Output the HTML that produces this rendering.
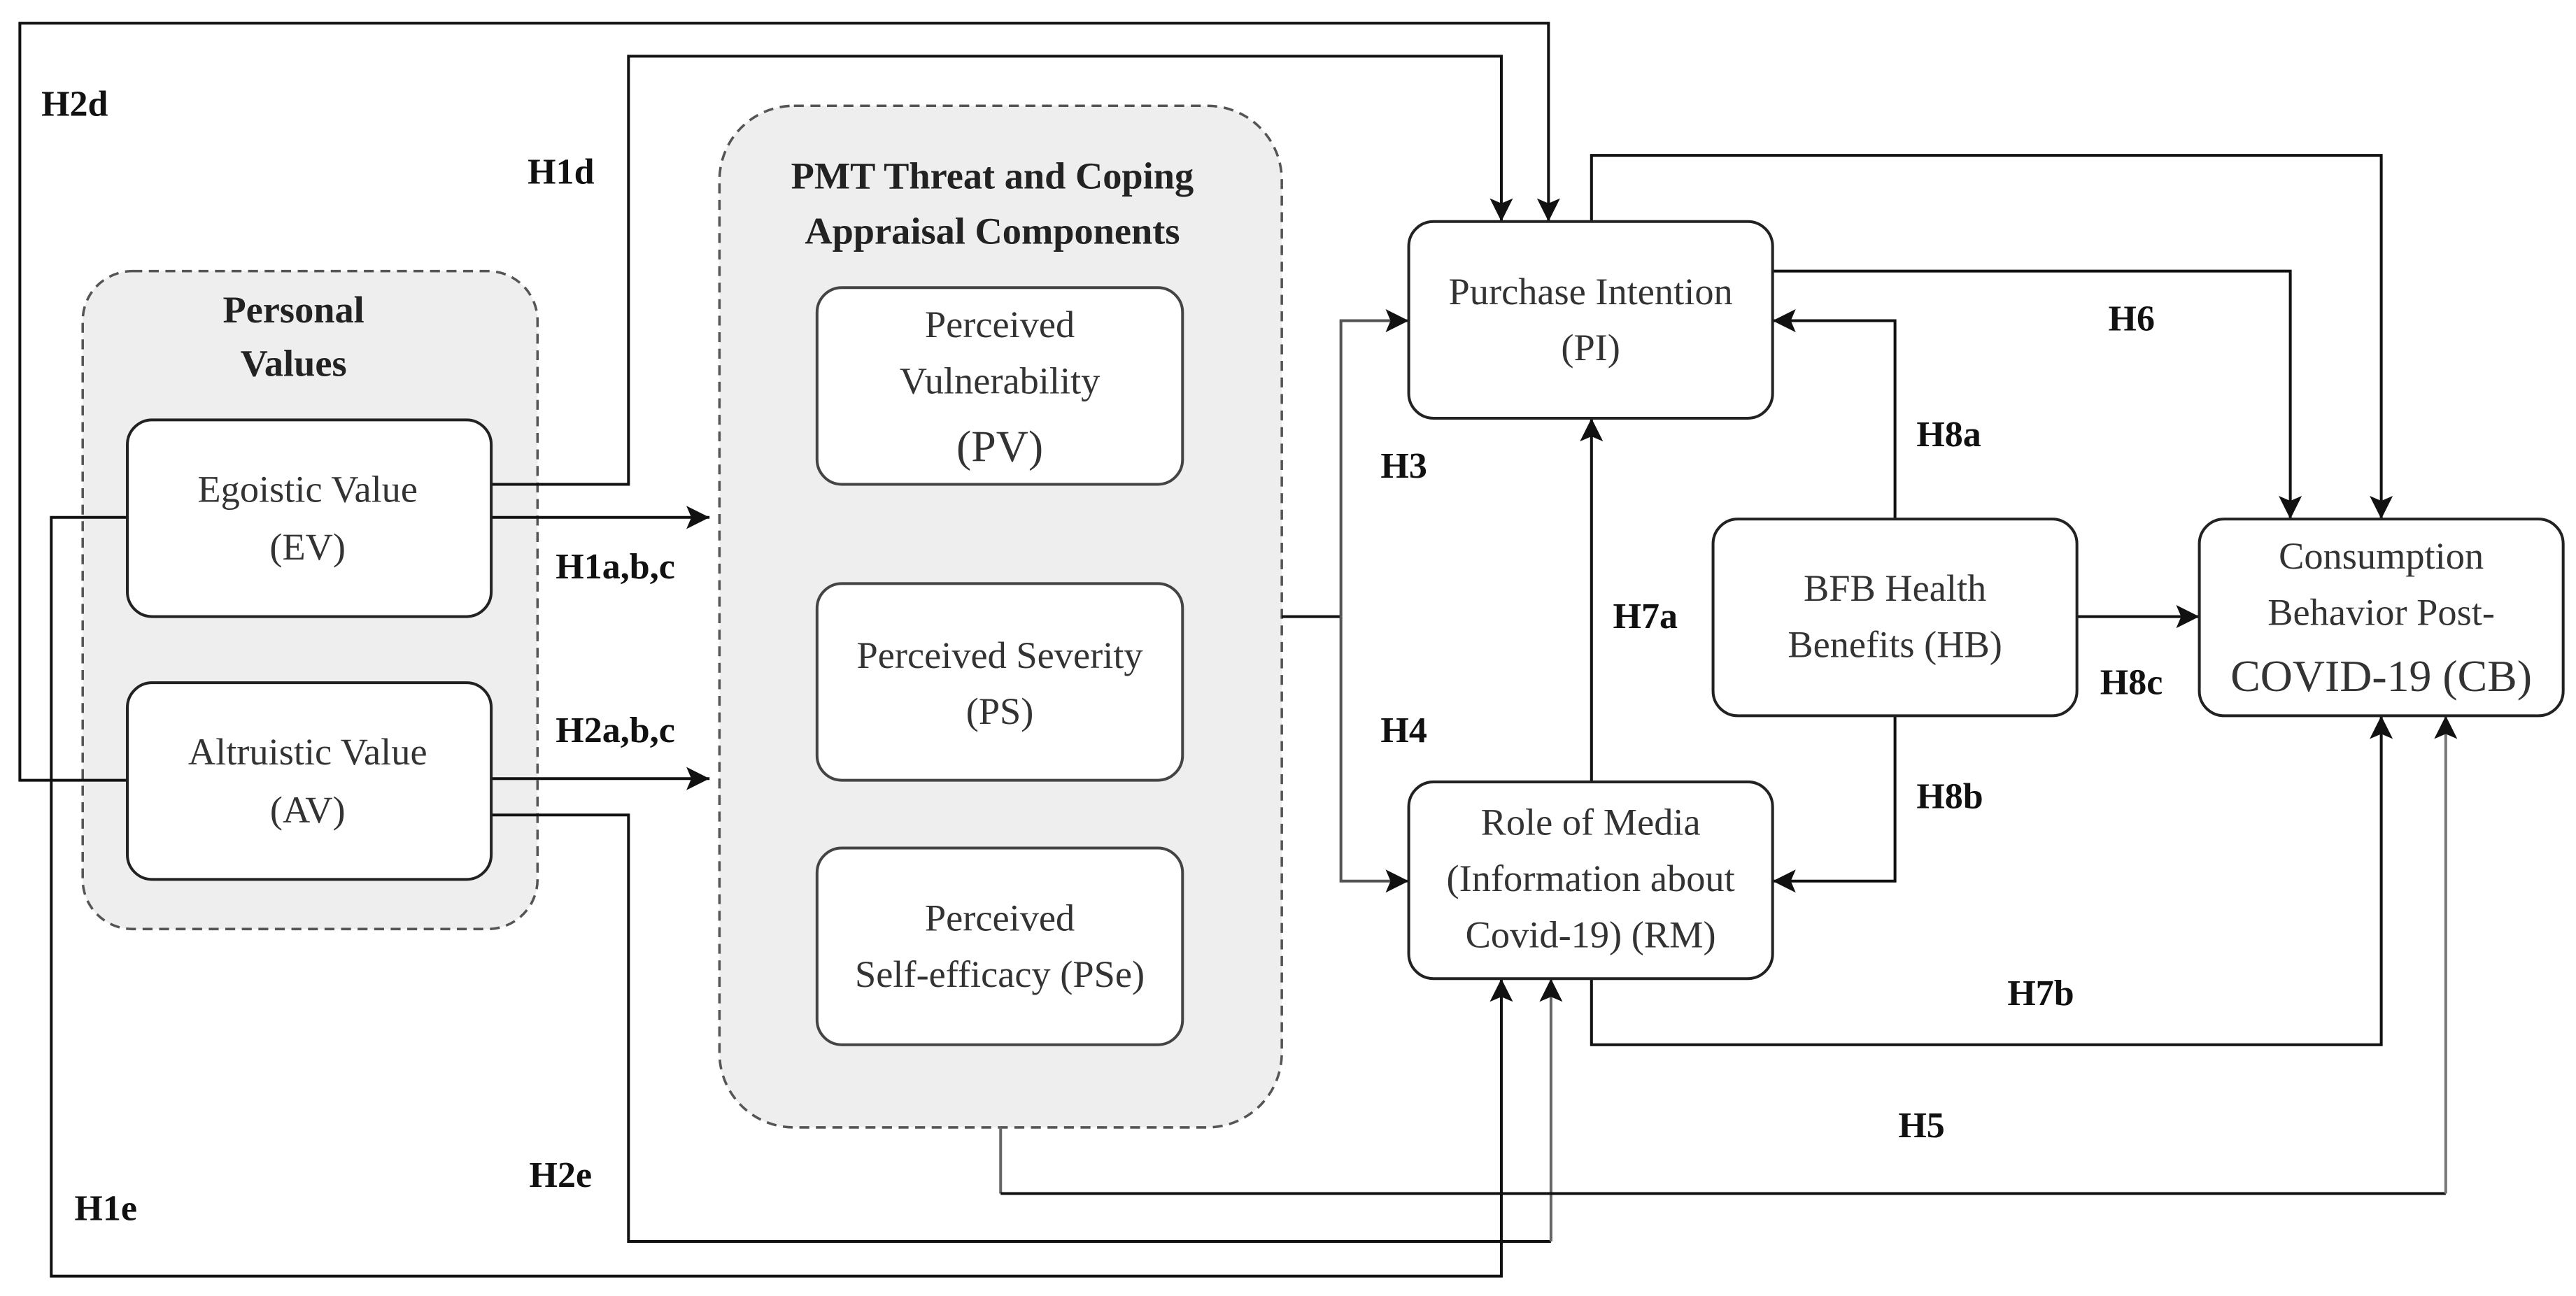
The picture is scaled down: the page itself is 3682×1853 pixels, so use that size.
<!DOCTYPE html>
<html><head><meta charset="utf-8"><style>
html,body{margin:0;padding:0;background:#fff;}
svg{display:block;}
text{font-family:"Liberation Serif",serif;}
.b{font-size:46px;fill:#333;text-anchor:middle;}
.l{font-size:44px;font-weight:bold;fill:#111;}
.t{font-size:46px;font-weight:bold;fill:#222;text-anchor:middle;}
</style></head><body>
<svg width="3682" height="1853" viewBox="0 0 3115 1568" preserveAspectRatio="none" xmlns="http://www.w3.org/2000/svg">
<defs>
<marker id="a" markerUnits="userSpaceOnUse" markerWidth="30" markerHeight="28" refX="28" refY="14" orient="auto">
<path d="M0,0 L28,14 L0,28 L6,14 Z" fill="#111"/></marker>
<marker id="g" markerUnits="userSpaceOnUse" markerWidth="30" markerHeight="28" refX="28" refY="14" orient="auto">
<path d="M0,0 L28,14 L0,28 L6,14 Z" fill="#111"/></marker>
</defs>
<rect width="3115" height="1568" fill="#fff"/>
<!-- groups -->
<rect x="100" y="328" width="550" height="796" rx="60" fill="#eeeeee" stroke="#555" stroke-width="3" stroke-dasharray="12,8"/>
<rect x="870" y="128" width="680" height="1236" rx="90" fill="#eeeeee" stroke="#555" stroke-width="3" stroke-dasharray="12,8"/>
<g fill="none" stroke="#111" stroke-width="3.4">
<path d="M154,944 H24 V28 H1872.5 V268" marker-end="url(#a)"/>
<path d="M594,586 H760 V68 H1815.5 V268" marker-end="url(#a)"/>
<path d="M594,626 H858" marker-end="url(#a)"/>
<path d="M594,942 H858" marker-end="url(#a)"/>
<path d="M154,626 H62 V1544 H1815.5 V1184" marker-end="url(#a)"/>
<path d="M594,986 H760 V1502 H1875.5"/>
<path d="M1875.5,1502 V1184" stroke="#666" marker-end="url(#g)"/>
<path d="M1210,1364 V1444" stroke="#666"/>
<path d="M1210,1444 H2957.5"/>
<path d="M2957.5,1444 V866" stroke="#777" marker-end="url(#g)"/>
<path d="M1550,746 H1621.5"/>
<path d="M1621.5,746 V388 H1703.5" stroke="#555" marker-end="url(#a)"/>
<path d="M1621.5,746 V1066 H1703.5" stroke="#555" marker-end="url(#a)"/>
</g>
<!-- left boxes -->
<g fill="#fff" stroke="#222" stroke-width="3.4">
<rect x="154" y="508" width="440" height="238" rx="30"/>
<rect x="154" y="826" width="440" height="238" rx="30"/>
<rect x="988" y="348" width="442" height="238" rx="30" stroke="#444"/>
<rect x="988" y="706" width="442" height="238" rx="30" stroke="#444"/>
<rect x="988" y="1026" width="442" height="238" rx="30" stroke="#444"/>
</g>
<text class="t" x="355" y="390">Personal</text>
<text class="t" x="355" y="455">Values</text>
<text class="t" x="1200" y="228">PMT Threat and Coping</text>
<text class="t" x="1200" y="295">Appraisal Components</text>
<text class="b" x="372" y="607">Egoistic Value</text>
<text class="b" x="372" y="677">(EV)</text>
<text class="b" x="372" y="925">Altruistic Value</text>
<text class="b" x="372" y="995">(AV)</text>
<text class="b" x="1209" y="408">Perceived</text>
<text class="b" x="1209" y="476">Vulnerability</text>
<text class="b" x="1209" y="558" style="font-size:54px">(PV)</text>
<text class="b" x="1209" y="808">Perceived Severity</text>
<text class="b" x="1209" y="876">(PS)</text>
<text class="b" x="1209" y="1126">Perceived</text>
<text class="b" x="1209" y="1194">Self-efficacy (PSe)</text>
<text class="l" x="50" y="140">H2d</text>
<text class="l" x="638" y="222">H1d</text>
<text class="l" x="672" y="700">H1a,b,c</text>
<text class="l" x="672" y="898">H2a,b,c</text>
<text class="l" x="640" y="1436">H2e</text>
<text class="l" x="90" y="1476">H1e</text>
<!-- right half -->
<g transform="translate(1557.5,0)">
<g fill="none" stroke="#111" stroke-width="3.4">
<path d="M367,268 V188 H1322 V628" marker-end="url(#a)"/>
<path d="M586,328 H1212 V628" marker-end="url(#a)"/>
<path d="M734,628 V388 H586" marker-end="url(#a)"/>
<path d="M734,866 V1066 H586" marker-end="url(#a)"/>
<path d="M954,746 H1102" marker-end="url(#a)"/>
<path d="M367,946 V506" marker-end="url(#a)"/>
<path d="M367,1184 V1264 H1322 V866" marker-end="url(#a)"/>
</g>
<g fill="#fff" stroke="#222" stroke-width="3.4">
<rect x="146" y="268" width="440" height="238" rx="30"/>
<rect x="146" y="946" width="440" height="238" rx="30"/>
<rect x="514" y="628" width="440" height="238" rx="30"/>
<rect x="1102" y="628" width="440" height="238" rx="30"/>
</g>
<text class="b" x="366" y="368">Purchase Intention</text>
<text class="b" x="366" y="436">(PI)</text>
<text class="b" x="366" y="1010">Role of Media</text>
<text class="b" x="366" y="1078">(Information about</text>
<text class="b" x="366" y="1146">Covid-19) (RM)</text>
<text class="b" x="734" y="727">BFB Health</text>
<text class="b" x="734" y="795">Benefits (HB)</text>
<text class="b" x="1322" y="688">Consumption</text>
<text class="b" x="1322" y="756">Behavior Post-</text>
<text class="b" x="1322" y="836" style="font-size:54px">COVID-19 (CB)</text>
<text class="l" x="992" y="400">H6</text>
<text class="l" x="760" y="540">H8a</text>
<text class="l" x="112" y="578">H3</text>
<text class="l" x="393" y="760">H7a</text>
<text class="l" x="112" y="898">H4</text>
<text class="l" x="982" y="840">H8c</text>
<text class="l" x="760" y="978">H8b</text>
<text class="l" x="870" y="1216">H7b</text>
<text class="l" x="738" y="1376">H5</text>
</g>
</svg>
</body></html>
